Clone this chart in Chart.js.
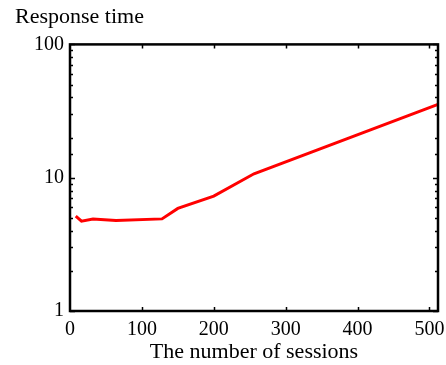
<!DOCTYPE html>
<html>
<head>
<meta charset="utf-8">
<script src="https://cdn.jsdelivr.net/npm/chart.js@4"></script>
<style>
  html, body { margin: 0; padding: 0; background: #fff; }
  #wrap { width: 446px; height: 365px; }
</style>
</head>
<body>
<div id="wrap"><canvas id="chart"></canvas></div>
<script>
// sessions vs response time
const sessions = [8, 16, 32, 64, 128, 150, 200, 256, 512];
const responseTime = [5.15, 4.72, 4.89, 4.78, 4.91, 5.88, 7.27, 10.7, 35.5];
const yLabels = [1, 10, 100];

const serif = 'Liberation Serif, Times New Roman, serif';

// ticks drawn inside the frame, like the original plot
const innerTicks = {
  id: 'innerTicks',
  afterDatasetsDraw(chart) {
    const { ctx, chartArea: a, scales } = chart;
    ctx.save();
    ctx.strokeStyle = '#000';
    ctx.lineWidth = 1.5;
    scales.x.ticks.forEach(t => {
      if (t.value <= 0) return;
      const px = Math.round(scales.x.getPixelForValue(t.value)) + 0.5;
      ctx.beginPath();
      ctx.moveTo(px, a.bottom); ctx.lineTo(px, a.bottom - 4);
      ctx.moveTo(px, a.top); ctx.lineTo(px, a.top + 4);
      ctx.stroke();
    });
    scales.y.ticks.forEach(t => {
      const major = yLabels.includes(t.value);
      const len = major ? 5 : 3;
      const py = Math.round(scales.y.getPixelForValue(t.value)) + 0.5;
      ctx.beginPath();
      ctx.moveTo(a.left, py); ctx.lineTo(a.left + len, py);
      ctx.moveTo(a.right, py); ctx.lineTo(a.right - len, py);
      ctx.stroke();
    });
    ctx.lineWidth = 2.5;
    ctx.strokeRect(a.left, a.top, a.right - a.left, a.bottom - a.top);
    ctx.restore();
  }
};

new Chart(document.getElementById('chart'), {
  type: 'line',
  data: {
    datasets: [{
      data: sessions.map((s, i) => ({ x: s, y: responseTime[i] })),
      borderColor: '#ff0000',
      borderWidth: 3,
      pointRadius: 0,
      tension: 0,
      clip: 2
    }]
  },
  options: {
    responsive: true,
    maintainAspectRatio: false,
    animation: false,
    layout: { padding: { left: 15, right: 8, top: 0, bottom: 0 } },
    plugins: {
      legend: { display: false },
      tooltip: { enabled: false },
      title: {
        display: true,
        text: 'Response time',
        align: 'start',
        color: '#000',
        font: { family: serif, size: 22, weight: 'normal' },
        padding: { top: 4, bottom: 14 }
      }
    },
    scales: {
      x: {
        type: 'linear',
        min: 0,
        max: 512,
        grid: { display: false, drawTicks: false },
        border: { display: false },
        ticks: {
          stepSize: 100,
          includeBounds: false,
          color: '#000',
          padding: 7,
          maxRotation: 0,
          font: { family: serif, size: 20 }
        },
        title: {
          display: true,
          text: 'The number of sessions',
          color: '#000',
          font: { family: serif, size: 22 },
          padding: { top: 2, bottom: 0 }
        },
        afterFit(scale) {
          scale.height = 54;
          scale.paddingLeft = 0;
          scale.paddingRight = 0;
        }
      },
      y: {
        type: 'logarithmic',
        min: 1,
        max: 100,
        grid: { display: false, drawTicks: false },
        border: { display: false },
        ticks: {
          autoSkip: false,
          color: '#000',
          padding: 6,
          font: { family: serif, size: 20 },
          callback: v => yLabels.includes(v) ? String(v) : ''
        },
        afterFit(scale) { scale.width = 55; }
      }
    }
  },
  plugins: [innerTicks]
});
</script>
</body>
</html>
